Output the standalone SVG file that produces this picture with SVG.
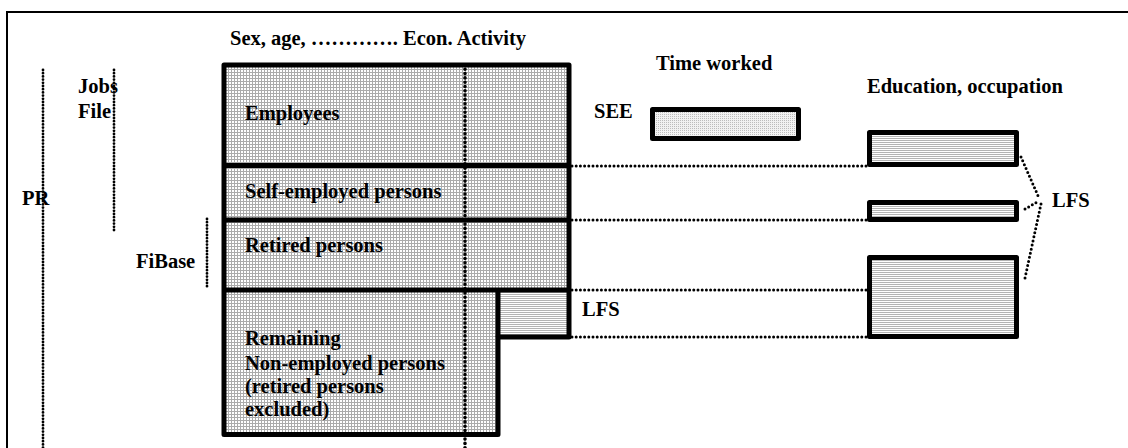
<svg xmlns="http://www.w3.org/2000/svg" width="1128" height="448" viewBox="0 0 1128 448">
<defs>
<pattern id="grid" width="3" height="3" patternUnits="userSpaceOnUse">
<rect width="3" height="3" fill="#ffffff"/>
<path d="M0 0.5H3M0.5 0V3" stroke="#ababab" stroke-width="1"/>
</pattern>
<pattern id="hlines" width="4" height="2" patternUnits="userSpaceOnUse">
<rect width="4" height="2" fill="#ffffff"/>
<path d="M0 0.5H4" stroke="#b4b4b4" stroke-width="1"/>
</pattern>
<pattern id="fine" width="2" height="2" patternUnits="userSpaceOnUse">
<rect width="2" height="2" fill="#f2f2f2"/>
<rect width="1" height="1" fill="#bdbdbd"/>
</pattern>
</defs>
<style>
text{font-family:"Liberation Serif","Times New Roman",serif;font-weight:bold;font-size:20.5px;fill:#000}
.box{stroke:#000;stroke-width:5;stroke-linejoin:round}
.sep{stroke:#000;stroke-width:5;fill:none}
.dot{stroke:#000;stroke-width:3;stroke-linecap:round;stroke-dasharray:0 4.2;fill:none}
.dotv{stroke:#000;stroke-width:3.6;stroke-linecap:round;stroke-dasharray:0 4.3;fill:none}
.dots{stroke:#000;stroke-width:2.8;stroke-linecap:round;stroke-dasharray:0 3.2;fill:none}
</style>
<rect width="1128" height="448" fill="#ffffff"/>
<g id="frame">
<path d="M7 448V12H1128" fill="none" stroke="#000" stroke-width="2"/>
</g>
<g id="header">
<text x="230" y="45">Sex, age, …………. Econ. Activity</text>
</g>
<g id="main-block">
<path d="M224 65H569V337H498V434.5H224Z" fill="url(#grid)"/>
<rect x="498" y="290" width="71" height="47" fill="url(#hlines)"/>
<path class="box" d="M224 65H569V337H498V434.5H224Z" fill="none"/>
<path class="sep" d="M224 165.5H569M224 220H569M224 290H569M498 290V337"/>
</g>
<g id="employees"><text x="245" y="120">Employees</text></g>
<g id="self-employed"><text x="245" y="198">Self-employed persons</text></g>
<g id="retired"><text x="245" y="252">Retired persons</text></g>
<g id="remaining">
<text x="245" y="345">Remaining</text>
<text x="245" y="370">Non-employed persons</text>
<text x="245" y="393">(retired persons</text>
<text x="245" y="416">excluded)</text>
</g>
<g id="lfs-mid"><text x="582" y="316">LFS</text></g>
<g id="pr"><text x="22" y="205">PR</text></g>
<g id="jobs-file"><text x="78" y="93">Jobs</text><text x="78" y="118">File</text></g>
<g id="fibase"><text x="136" y="268">FiBase</text></g>
<g id="time-worked"><text x="656" y="70">Time worked</text></g>
<g id="see">
<text x="594" y="118">SEE</text>
<rect class="box" x="652.5" y="109.5" width="146" height="29" fill="url(#fine)"/>
</g>
<g id="education"><text x="867" y="93">Education, occupation</text></g>
<g id="edu-box-1"><rect class="box" x="869.5" y="132.5" width="147" height="32" fill="url(#hlines)"/></g>
<g id="edu-box-2"><rect class="box" x="869.5" y="202.5" width="147" height="17" fill="url(#hlines)"/></g>
<g id="edu-box-3"><rect class="box" x="869.5" y="257.5" width="147" height="79" fill="url(#hlines)"/></g>
<g id="lfs-right"><text x="1052" y="207">LFS</text></g>
<g id="connectors">
<path class="dots" d="M43 70V448"/>
<path class="dots" d="M114 70V233"/>
<path class="dots" d="M207 219V288"/>
<path class="dotv" d="M465 65V448"/>
<path class="dot" d="M572 166H867"/>
<path class="dot" d="M572 220H867"/>
<path class="dot" d="M572 290H867"/>
<path class="dot" d="M572 337H867"/>
<path class="dot" d="M1021 157L1039 198"/>
<path class="dot" d="M1025 209L1039 201"/>
<path class="dot" d="M1041 204L1025 278"/>
</g>
</svg>
